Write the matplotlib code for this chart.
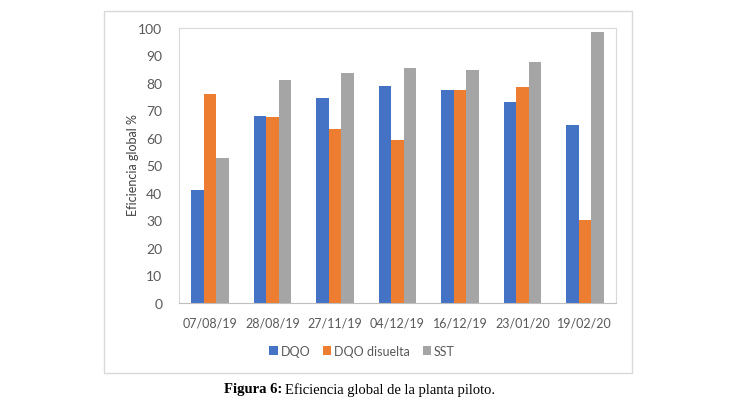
import numpy as np
import matplotlib.pyplot as plt
from matplotlib.patches import Rectangle

fechas = ['07/08/19', '28/08/19', '27/11/19', '04/12/19', '16/12/19', '23/01/20', '19/02/20']
dqo = [41.0, 68.0, 74.4, 78.9, 77.6, 73.0, 64.6]
dqo_disuelta = [75.9, 67.7, 63.3, 59.3, 77.5, 78.5, 30.3]
sst = [52.8, 81.0, 83.7, 85.4, 84.8, 87.7, 98.7]
series = [('DQO', dqo, '#4472C4'), ('DQO disuelta', dqo_disuelta, '#ED7D31'), ('SST', sst, '#A5A5A5')]

plt.rcParams['font.family'] = ['Lato', 'DejaVu Sans']
fig = plt.figure(figsize=(7.41, 4.06), dpi=100)

# outer chart frame
fig.patches.append(Rectangle((104 / 741, 1 - 374 / 406), 528 / 741, 362 / 406,
                             transform=fig.transFigure, fill=False, edgecolor='#D9D9D9', lw=1))

ax = fig.add_axes([179 / 741, 1 - 304 / 406, 437 / 741, 275 / 406])
x = np.arange(len(fechas))
w = 0.2
for i, (name, vals, col) in enumerate(series):
    ax.bar(x + (i - 1) * w, vals, w, color=col, label=name)

ax.set_xlim(-0.5, len(fechas) - 0.5)
ax.set_ylim(0, 100)
ax.set_yticks(range(0, 101, 10))
ax.set_xticks(x)
ax.set_xticklabels(fechas)
ax.tick_params(length=0, labelsize=10, colors='#595959')
ax.tick_params(axis='x', labelsize=9, pad=10)
ax.tick_params(axis='y', pad=12)
for s in ax.spines.values():
    s.set_color('#D9D9D9')
    s.set_linewidth(0.8)
ax.spines['bottom'].set_color('#BFBFBF')
fig.text(133 / 741, 1 - 165 / 406, 'Eficiencia global %', rotation=90, ha='center', va='center',
         fontsize=9, color='#404040')

ax.legend(loc='center', bbox_to_anchor=(362 / 741, 1 - 352 / 406), bbox_transform=fig.transFigure,
          ncol=3, frameon=False, fontsize=9, handlelength=0.65, handleheight=0.65,
          handletextpad=0.25, columnspacing=1.0, labelcolor='#595959')

fig.text(282 / 741, 1 - 390 / 406, 'Figura 6:', ha='right', va='center',
         family='Liberation Serif', fontweight='bold', fontsize=10.5)
fig.text(285 / 741, 1 - 390 / 406, 'Eficiencia global de la planta piloto.', ha='left', va='center',
         family='Liberation Serif', fontsize=10.5)

fig.savefig('out.png', dpi=100)
